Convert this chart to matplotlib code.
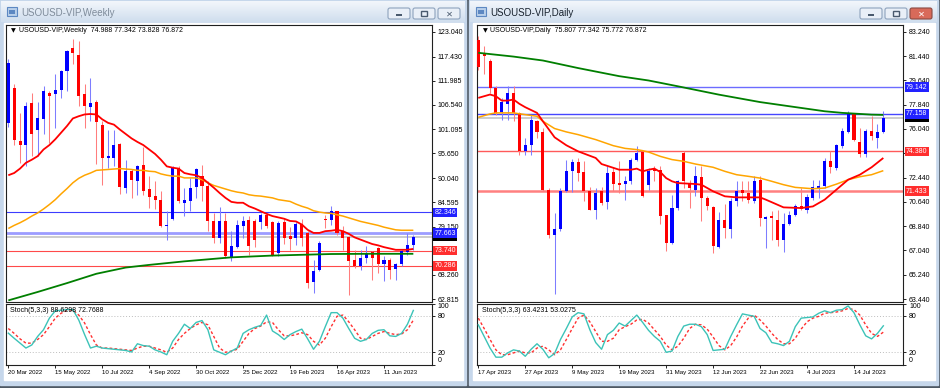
import numpy as np
import matplotlib
matplotlib.use('Agg')
import matplotlib.pyplot as plt
from matplotlib import font_manager
from matplotlib.patches import Rectangle, FancyBboxPatch
from matplotlib.colors import LinearSegmentedColormap
from matplotlib.transforms import blended_transform_factory

W, H = 940, 388

# ---------------- weekly chart data (USOUSD-VIP, Weekly) ----------------
weekly_dates = ['20 Mar 2022', '15 May 2022', '10 Jul 2022', '4 Sep 2022', '30 Oct 2022',
                '25 Dec 2022', '19 Feb 2023', '16 Apr 2023', '11 Jun 2023']
weekly_open = [102.5, 110.25, 98.5, 97.5, 106.9, 101.0, 103.3, 109.3, 108.9, 110.0,
               114.2, 119.3, 117.9, 108.9, 106.1, 107.25, 102.0, 94.6, 94.6, 97.8,
               87.9, 91.6, 89.5, 92.95, 87.5, 86.0, 85.1, 79.2, 80.9, 92.4,
               84.5, 84.8, 88.0, 90.5, 88.2, 80.3, 76.6, 80.3, 72.1, 74.5,
               79.2, 80.7, 80.5, 80.2, 81.8, 80.2, 73.2, 80.2, 77.0, 76.6,
               79.8, 77.7, 66.6, 69.4, 80.9, 80.7, 82.6, 78.1, 76.7, 71.7,
               70.2, 72.05, 73.4, 74.3, 70.6, 71.7, 69.6, 70.6, 73.5, 74.988]
weekly_high = [116.8, 111.2, 104.8, 107.3, 109.3, 107.3, 110.8, 109.7, 113.4, 114.5,
               119.0, 121.5, 120.9, 111.2, 112.7, 107.6, 102.9, 101.0, 100.8, 98.0,
               94.2, 92.0, 93.1, 97.0, 90.5, 89.4, 87.1, 82.6, 92.7, 92.7,
               87.9, 90.0, 92.4, 93.1, 89.35, 82.2, 83.5, 82.2, 78.1, 80.7,
               81.5, 81.5, 80.8, 82.2, 82.2, 80.3, 80.3, 81.1, 79.0, 80.2,
               80.9, 78.1, 71.7, 75.8, 81.8, 83.7, 82.7, 79.2, 77.0, 73.9,
               73.9, 74.8, 73.6, 74.5, 72.4, 72.05, 70.9, 73.9, 77.7, 77.342]
weekly_low = [101.5, 97.6, 93.5, 92.7, 95.0, 95.0, 99.9, 98.0, 101.4, 108.0,
              109.7, 115.7, 106.3, 101.4, 102.9, 93.3, 88.5, 92.4, 92.7, 86.5,
              86.7, 85.6, 86.3, 86.2, 83.3, 83.0, 79.0, 76.2, 80.7, 84.5,
              81.5, 82.6, 85.6, 84.8, 78.1, 75.4, 75.4, 72.05, 71.3, 74.3,
              76.6, 72.8, 74.5, 78.5, 78.8, 72.6, 72.4, 75.1, 73.9, 74.9,
              74.7, 65.3, 64.2, 69.05, 78.8, 79.6, 77.3, 73.9, 63.8, 69.8,
              69.4, 70.9, 67.2, 68.7, 66.8, 67.4, 67.0, 70.2, 72.8, 73.828]
weekly_close = [116.0, 98.75, 97.5, 106.3, 99.9, 103.5, 109.7, 108.5, 110.0, 114.2,
                118.8, 118.3, 108.5, 106.3, 106.9, 102.7, 94.6, 95.0, 97.6, 88.0,
                91.6, 89.7, 92.7, 87.1, 85.8, 85.1, 79.2, 79.6, 92.4, 84.8,
                85.2, 87.9, 92.2, 88.2, 80.3, 76.6, 80.5, 72.4, 74.7, 79.6,
                80.3, 74.7, 76.2, 81.7, 79.2, 72.8, 79.95, 76.6, 76.4, 79.8,
                76.6, 66.4, 69.2, 75.4, 80.7, 82.7, 77.7, 76.6, 71.3, 70.2,
                72.05, 72.95, 72.05, 70.6, 71.6, 69.4, 70.6, 73.7, 75.0, 76.872]
weekly_ma_red = [90.7, 91.2, 92.2, 93.5, 94.2, 95.0, 96.5, 97.5, 98.8, 100.3,
                 101.8, 103.5, 104.0, 104.4, 104.5, 104.4, 103.3, 102.5, 102.1, 101.0,
                 100.0, 99.0, 98.2, 97.5, 96.5, 95.5, 94.2, 92.7, 92.4, 92.2,
                 91.2, 90.9, 90.7, 90.1, 89.0, 87.9, 86.7, 85.6, 84.7, 84.5,
                 84.5, 83.7, 83.2, 82.6, 82.0, 81.5, 81.2, 80.9, 80.4, 80.3,
                 79.6, 78.4, 77.7, 77.7, 78.1, 78.2, 78.4, 78.1, 77.5, 76.7,
                 76.2, 75.7, 75.2, 74.9, 74.5, 74.2, 73.9, 73.9, 73.9, 74.1]
weekly_ma_orange = [78.7, 79.4, 80.0, 80.7, 81.5, 82.2, 83.1, 84.1, 85.2, 86.5,
                    87.7, 89.0, 90.0, 90.7, 91.2, 91.8, 91.9, 92.0, 92.1, 92.2,
                    92.1, 92.0, 91.8, 91.8, 91.6, 91.5, 91.0, 90.7, 90.5, 90.5,
                    90.1, 90.1, 90.1, 89.7, 89.0, 88.4, 88.0, 87.6, 87.2, 86.9,
                    86.7, 86.3, 86.1, 86.0, 85.8, 85.6, 85.2, 85.0, 84.8, 84.2,
                    83.7, 83.3, 82.7, 82.4, 82.2, 82.1, 81.8, 81.5, 81.1, 80.7,
                    80.3, 80.0, 79.7, 79.4, 79.0, 78.7, 78.4, 78.3, 78.3, 78.3]
weekly_ma_green_bars = [0, 5, 10, 15, 20, 24, 30, 38, 45, 55, 62, 69]
weekly_ma_green = [62.5, 64.4, 66.4, 68.5, 69.9, 70.5, 71.3, 72.2, 72.6, 72.95, 73.0, 73.0]
weekly_stoch_k = [51.4, 43, 35, 27, 32, 46, 57, 76, 88, 89,
                  90, 90, 73, 49, 27, 30, 27, 26, 25, 24,
                  23, 20.5, 34, 31, 30, 24, 20.5, 16, 38, 51,
                  66, 59, 69, 72, 57, 24, 20, 16, 22, 27,
                  51, 57, 61, 64, 81, 55, 49, 41, 49, 54,
                  58, 42, 25, 38, 62, 85, 85, 76, 59, 43,
                  38, 41, 51, 56, 57, 47, 46, 51, 66, 88.63]
weekly_stoch_d = [59, 51, 42, 35, 35, 41, 49, 62, 76, 84,
                  89, 89, 81, 68, 49, 32, 27, 27, 26, 25,
                  24, 23, 27, 30, 30, 27, 24, 20, 27, 41,
                  51, 59, 65, 69, 65, 46, 27, 20, 22, 25,
                  38, 51, 59, 63, 70, 69, 57, 47, 47, 49,
                  52, 49, 38, 32, 43, 62, 79, 81, 70, 57,
                  43, 41, 46, 51, 54, 51, 49, 50, 57, 72.77]
weekly_ticks = [123.040, 117.430, 111.985, 106.540, 101.095, 95.650,
                90.040, 84.595, 79.150, 73.740, 68.260, 62.815]
weekly_levels = [82.346, 77.663, 73.740, 70.286]

# ---------------- daily chart data (USOUSD-VIP, Daily) ----------------
daily_dates = ['17 Apr 2023', '27 Apr 2023', '9 May 2023', '19 May 2023', '31 May 2023',
               '12 Jun 2023', '22 Jun 2023', '4 Jul 2023', '14 Jul 2023']
daily_open = [82.6, 81.68, 81.06, 79.08, 77.3, 77.9, 78.71, 77.23, 74.43, 74.88,
              76.66, 75.82, 71.54, 68.15, 68.65, 71.47, 72.9, 73.6, 72.85, 71.47,
              70.06, 71.47, 70.62, 72.85, 72.03, 71.96, 72.16, 73.77, 74.33, 71.91,
              73.1, 73.02, 69.63, 67.58, 70.18, 74.26, 71.96, 71.54, 72.45, 70.92,
              70.23, 67.26, 69.31, 68.65, 70.67, 71.52, 71.3, 70.72, 72.28, 69.4,
              69.56, 69.31, 67.83, 68.99, 69.68, 70.3, 70.06, 70.92, 71.66, 71.79,
              73.69, 73.15, 74.76, 75.82, 77.15, 75.08, 74.19, 75.87, 75.37, 75.807]
daily_high = [82.9, 82.2, 81.2, 79.2, 78.34, 79.2, 79.2, 77.3, 75.37, 77.05,
              76.73, 76.11, 71.66, 69.8, 71.66, 73.77, 73.84, 73.89, 73.64, 71.71,
              71.66, 71.71, 73.27, 73.2, 73.64, 72.53, 73.89, 74.76, 74.38, 73.15,
              73.27, 73.27, 69.68, 71.17, 72.28, 74.43, 72.28, 73.27, 73.27, 71.05,
              70.3, 69.88, 70.48, 70.92, 72.16, 72.16, 72.16, 72.53, 72.53, 69.6,
              69.98, 70.06, 69.8, 69.93, 70.48, 71.66, 71.22, 72.28, 72.28, 73.89,
              74.38, 74.93, 76.11, 77.35, 77.23, 76.11, 76.07, 76.98, 76.4, 77.342]
daily_low = [80.4, 80.1, 78.7, 77.1, 76.73, 76.73, 76.6, 74.14, 74.09, 74.09,
             75.37, 71.45, 67.95, 63.8, 68.45, 71.4, 71.4, 72.16, 70.67, 70.0,
             69.39, 70.43, 70.13, 71.42, 71.29, 70.8, 71.96, 73.64, 71.0, 71.54,
             72.16, 68.99, 67.02, 67.51, 70.06, 71.66, 70.18, 71.05, 69.24, 70.06,
             66.84, 67.21, 67.95, 67.95, 70.3, 70.67, 70.55, 70.55, 68.82, 67.2,
             67.83, 67.34, 66.96, 68.94, 69.56, 70.06, 69.81, 70.8, 70.92, 71.66,
             72.78, 73.02, 74.63, 75.74, 75.13, 73.94, 73.94, 75.25, 74.63, 75.772]
daily_close = [80.6, 81.43, 79.08, 77.23, 78.04, 78.7, 77.23, 74.43, 74.88, 76.73,
               75.82, 71.54, 68.15, 68.65, 71.47, 72.9, 73.6, 72.78, 71.47, 70.06,
               71.29, 70.55, 72.78, 71.96, 71.91, 72.2, 73.77, 74.26, 71.05, 72.9,
               72.9, 69.56, 67.58, 70.18, 72.16, 72.16, 71.66, 72.53, 70.92, 70.3,
               67.34, 69.31, 68.7, 70.67, 71.47, 71.3, 70.8, 72.2, 69.44, 69.5,
               69.44, 67.83, 68.99, 69.68, 70.3, 70.13, 70.97, 71.71, 71.79, 73.64,
               73.2, 74.83, 75.87, 77.15, 75.25, 74.19, 75.92, 75.5, 75.82, 76.872]
daily_ma_red_bars = [0, 2, 3, 4, 5, 6, 7, 8, 10, 11, 13, 15, 17, 20, 21, 24, 26, 27, 28, 29,
                     30, 31, 32, 33, 34, 37, 38, 40, 42, 44, 46, 48, 49, 52, 55, 57, 59, 61,
                     63, 65, 67, 69]
daily_ma_red = [78.34, 78.59, 78.46, 78.14, 78.14, 78.22, 77.9, 77.65, 77.23, 76.61,
                75.42, 74.83, 74.38, 73.89, 73.44, 73.02, 73.02, 73.1, 72.9, 73.02,
                73.1, 72.85, 72.4, 72.16, 72.03, 71.96, 71.91, 71.42, 71.05, 70.97,
                70.97, 70.97, 70.8, 70.23, 70.18, 70.3, 70.8, 71.54, 72.28, 72.65,
                73.2, 73.89]
daily_ma_orange_bars = [0, 2, 3, 6, 8, 10, 11, 13, 15, 17, 20, 23, 25, 27, 28, 29, 31, 33,
                        35, 37, 40, 42, 44, 46, 48, 50, 52, 54, 57, 59, 61, 63, 65, 67, 69]
daily_ma_orange = [76.9, 77.15, 77.23, 77.23, 77.1, 76.98, 76.61, 76.07, 75.82, 75.62,
                   75.25, 74.8, 74.6, 74.51, 74.43, 74.33, 74.01, 73.77, 73.64, 73.44,
                   73.2, 72.9, 72.65, 72.53, 72.4, 72.16, 71.91, 71.71, 71.61, 71.66,
                   71.95, 72.28, 72.5, 72.65, 72.95]
daily_ma_green_bars = [0, 6, 11, 17, 24, 29, 34, 41, 48, 53, 59, 62, 67, 69]
daily_ma_green = [81.68, 81.40, 81.11, 80.55, 79.95, 79.63, 79.2, 78.58, 78.03, 77.72,
                  77.35, 77.23, 77.1, 77.08]
daily_stoch_k = [65, 46, 27, 12, 12, 19, 24, 22, 13.5, 25,
                 34, 25, 11, 18, 41, 59, 78, 85, 83, 57,
                 36, 25, 49, 56, 68, 63, 72, 81, 69, 56,
                 46, 38, 20, 22, 46, 63, 66, 66, 62, 49,
                 23, 24, 25, 46, 65, 83, 81, 79, 59, 52,
                 36, 34, 31, 38, 62, 76, 77, 78, 84, 88,
                 85, 89, 90, 96, 85, 65, 47, 42, 51, 63.42]
daily_stoch_d = [76, 59, 41, 24, 16, 16, 19, 22, 19, 19,
                 27, 30, 24, 16, 24, 41, 59, 76, 81, 70,
                 54, 38, 38, 43, 57, 62, 66, 73, 74, 68,
                 57, 46, 32, 24, 30, 43, 59, 66, 65, 58,
                 45, 31, 24, 31, 45, 63, 76, 81, 73, 63,
                 51, 41, 34, 34, 43, 58, 70, 76, 79, 84,
                 85, 86, 88, 92, 90, 81, 65, 51, 46, 53.03]
daily_ticks = [83.240, 81.440, 79.640, 77.840, 76.040, 74.240,
               72.440, 70.640, 68.840, 67.040, 65.240, 63.440]
daily_levels = [79.142, 77.158, 74.380, 71.433]
last_price = 76.872

# Font: narrow sans if present (MT4 text is narrow), else plain
font_names = {f.name for f in font_manager.fontManager.ttflist}
FS = 5.0
for name, size in [('Liberation Sans Narrow', 6.0), ('DejaVu Sans Condensed', 5.4),
                   ('Liberation Sans', 5.0)]:
    if name in font_names:
        plt.rcParams['font.family'] = [name, 'DejaVu Sans']
        FS = size
        break

BULL, BEAR = '#0000ff', '#ff0000'
BULL_WICK, BEAR_WICK = '#7d7dff', '#ff7d7d'
BOX_BLUE, BOX_RED = '#2222ff', '#ff2e2e'
BAR_PX = 5.87

fig = plt.figure(figsize=(W / 100, H / 100), dpi=100)

# Background / window chrome in pixel coordinates
bg = fig.add_axes([0, 0, 1, 1])
bg.axis('off')
bg.add_patch(Rectangle((0, 0), W, H, color='#4e5964', zorder=0))
title_cmap = LinearSegmentedColormap.from_list('tb', ['#f2f6fb', '#d0deee'])


def px_axes(x0, y0, x1, y1):
    return fig.add_axes([x0 / W, 1 - y1 / H, (x1 - x0) / W, (y1 - y0) / H])


def draw_window(x0, x1, title, active):
    bg.add_patch(Rectangle((x0, 0), x1 - x0, 385, color='#c6d7eb', zorder=0.5))
    grad = np.linspace(0, 1, 22).reshape(-1, 1)
    bg.imshow(grad, extent=(x0 + 1, x1 - 1, 22, 1), cmap=title_cmap, aspect='auto', zorder=1)
    bg.add_patch(Rectangle((x0 + 4, 23), x1 - x0 - 7, 357, color='white', zorder=1))
    # window icon
    bg.add_patch(Rectangle((x0 + 7, 7), 10, 9, fc='#b8cfea', ec='#5d88c2', lw=0.8, zorder=2))
    bg.add_patch(Rectangle((x0 + 9, 10), 6, 4, fc='#5d88c2', ec='none', zorder=2))
    bg.text(x0 + 21, 12.5, title, fontsize=7, va='center', ha='left',
            color='#18222e' if active else '#7f8c9b', zorder=3)
    # min / restore / close buttons
    for k, bx in enumerate([x1 - 78, x1 - 53, x1 - 28]):
        red = active and k == 2
        bg.add_patch(FancyBboxPatch((bx, 8), 22, 11, boxstyle='round,pad=0,rounding_size=2',
                                    fc='#d86a5a' if red else '#e9eff7',
                                    ec='#8a4a42' if red else '#8ea3bd', lw=0.8, zorder=2))
        gc = 'white' if red else '#4a5a6e'
        if k == 0:
            bg.add_patch(Rectangle((bx + 8, 14), 6, 2, fc=gc, ec='none', zorder=3))
        elif k == 1:
            bg.add_patch(Rectangle((bx + 8, 11), 6, 5, fc='none', ec=gc, lw=1.0, zorder=3))
        else:
            bg.text(bx + 11, 13.8, '\u2715', fontsize=6, ha='center', va='center',
                    color=gc, family='DejaVu Sans', zorder=3)


def draw_candles(ax, o, h, l, c, min_body):
    o, h, l, c = map(np.asarray, (o, h, l, c))
    x = np.arange(len(o))
    up = c >= o
    ax.vlines(x, l, h, colors=np.where(up, BULL_WICK, BEAR_WICK), linewidth=0.75, zorder=3)
    ax.bar(x, np.maximum(np.abs(c - o), min_body), bottom=np.minimum(o, c), width=0.52,
           color=np.where(up, BULL, BEAR), linewidth=0, zorder=4)


def level_box(ax, price, fc, z):
    tr = blended_transform_factory(ax.transAxes, ax.transData)
    ax.text(1.0 + 2.5 / 427, price, f'{price:.3f}', transform=tr, ha='left', va='center',
            color='white', fontsize=FS, clip_on=False, zorder=z,
            bbox=dict(boxstyle='square,pad=0.18', fc=fc, ec='none'))


def style_frame(ax):
    for sp in ax.spines.values():
        sp.set_color('#202020')
        sp.set_linewidth(0.8)
    ax.set_facecolor('white')


def draw_chart(x0, bar0_px, header, ohlc, min_body, ylim, ticks, hidden_ticks, mas, levels,
               stoch, stoch_text, dates):
    x1 = x0 + 426.5
    xlim = ((x0 - bar0_px) / BAR_PX, (x1 - bar0_px) / BAR_PX)

    ax = px_axes(x0, 25, x1, 302)
    style_frame(ax)
    ax.set_xlim(*xlim)
    ax.set_ylim(*ylim)
    ax.set_xticks([])
    ax.yaxis.tick_right()
    ax.set_yticks(ticks)
    # scale labels that sit fully under a level label are not visible in MT4
    ax.set_yticklabels(['' if t in hidden_ticks else f'{t:.3f}' for t in ticks])
    ax.tick_params(axis='y', direction='out', length=2.5, width=0.6, pad=1.5, labelsize=FS)

    # horizontal levels: (price, line colour, width, label colour), last price line in grey
    for price, col, lw, box in levels:
        ax.axhline(price, color=col, lw=lw, zorder=1)
    ax.axhline(last_price, color='#c8c8c8', lw=1.3, zorder=1)

    draw_candles(ax, *ohlc, min_body)

    for (bx, vals), col, lw in mas:
        ax.plot(bx, vals, color=col, lw=lw, zorder=5, solid_capstyle='butt')

    # price labels of the levels on the price scale
    level_box(ax, last_price, '#000000', 9)
    for price, col, lw, box in levels:
        level_box(ax, price, box, 10)

    ax.text(5.5 / 427, 1 - 6 / 277, '\u25bc', transform=ax.transAxes, fontsize=4.5,
            ha='left', va='center', family='DejaVu Sans', zorder=12)
    ax.text(13.5 / 427, 1 - 6 / 277, header, transform=ax.transAxes, fontsize=FS,
            ha='left', va='center', zorder=12)

    # stochastic sub-window
    sx = px_axes(x0, 303.5, x1, 364.5)
    style_frame(sx)
    sx.set_xlim(*xlim)
    sx.set_ylim(0, 100)
    for lvl in (20, 80):
        sx.axhline(lvl, color='#bdbdbd', lw=0.7, ls=(0, (1, 2)), zorder=1)
    k, d = stoch
    sx.plot(np.arange(len(k)), k, color='#3cc3b8', lw=1.0, zorder=3)
    sx.plot(np.arange(len(d)), d, color='#ff3030', lw=1.0, ls=(0, (2, 1.6)), zorder=2)
    sx.text(5 / 427, 0.89, stoch_text, transform=sx.transAxes, fontsize=FS,
            ha='left', va='center', zorder=6)
    sx.yaxis.tick_right()
    sx.set_yticks([100, 80, 20, 0])
    sx.set_yticklabels(['100', '80', '20', '0'])
    sx.tick_params(axis='y', direction='out', length=2.5, width=0.6, pad=1.5, labelsize=FS)
    yl = sx.get_yticklabels()
    yl[0].set_va('top')
    yl[3].set_va('bottom')
    sx.set_xticks(np.arange(0, 8 * len(dates), 8))
    sx.set_xticklabels(dates, ha='left')
    sx.tick_params(axis='x', direction='out', length=2.5, width=0.6, pad=1.5,
                   labelsize=FS - 0.6)


draw_window(0, 466, 'USOUSD-VIP,Weekly', False)
draw_window(469, 938, 'USOUSD-VIP,Daily', True)

draw_chart(5.5, 8.3, 'USOUSD-VIP,Weekly  74.988 77.342 73.828 76.872',
           (weekly_open, weekly_high, weekly_low, weekly_close), 0.25,
           (62.14, 124.55), weekly_ticks, [73.740],
           [((weekly_ma_green_bars, weekly_ma_green), '#007f00', 1.3),
            ((np.arange(len(weekly_ma_orange)), weekly_ma_orange), '#ffa500', 1.1),
            ((np.arange(len(weekly_ma_red)), weekly_ma_red), '#ff0000', 1.3)],
           [(weekly_levels[0], '#3c3cff', 0.8, BOX_BLUE),
            (weekly_levels[1], '#9c9cff', 2.0, BOX_BLUE),
            (weekly_levels[2], '#ff4a4a', 0.8, BOX_RED),
            (weekly_levels[3], '#ff4a4a', 0.8, BOX_RED)],
           (weekly_stoch_k, weekly_stoch_d), 'Stoch(5,3,3) 88.6298 72.7688', weekly_dates)

draw_chart(477, 478.3, 'USOUSD-VIP,Daily  75.807 77.342 75.772 76.872',
           (daily_open, daily_high, daily_low, daily_close), 0.08,
           (63.22, 83.74), daily_ticks, [74.240],
           [((daily_ma_green_bars, daily_ma_green), '#007f00', 1.3),
            ((daily_ma_orange_bars, daily_ma_orange), '#ffa500', 1.1),
            ((daily_ma_red_bars, daily_ma_red), '#ff0000', 1.3)],
           [(daily_levels[0], '#6c6cff', 1.0, BOX_BLUE),
            (daily_levels[1], '#4646ff', 1.0, BOX_BLUE),
            (daily_levels[2], '#ff5a5a', 1.0, BOX_RED),
            (daily_levels[3], '#ff8080', 1.8, BOX_RED)],
           (daily_stoch_k, daily_stoch_d), 'Stoch(5,3,3) 63.4231 53.0275', daily_dates)

bg.set_xlim(0, W)
bg.set_ylim(H, 0)

fig.savefig('out.png', dpi=100)
